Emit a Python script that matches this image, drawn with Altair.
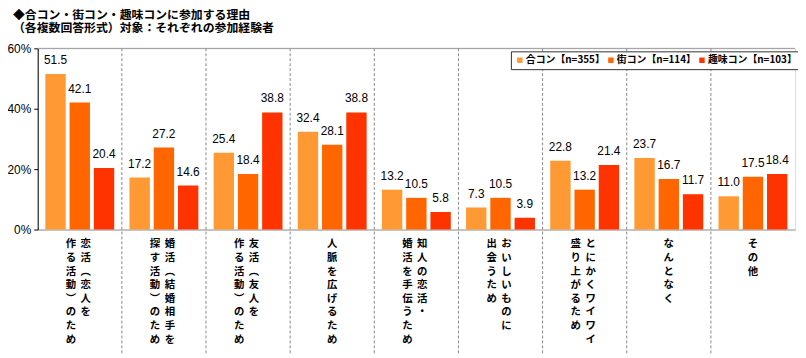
import altair as alt
import pandas as pd

categories = ["c1", "c2", "c3", "c4", "c5", "c6", "c7", "c8", "c9"]
series = ["合コン【n=355】", "街コン【n=114】", "趣味コン【n=103】"]
colors = ["#FF9933", "#FF6600", "#FF3300"]
goukon = [51.5, 17.2, 25.4, 32.4, 13.2, 7.3, 22.8, 23.7, 11.0]
machikon = [42.1, 27.2, 18.4, 28.1, 10.5, 10.5, 13.2, 16.7, 17.5]
shumikon = [20.4, 14.6, 38.8, 38.8, 5.8, 3.9, 21.4, 11.7, 18.4]

# vertical labels: right column (read first), left column
label_right = ["恋活︵恋人を", "婚活︵結婚相手を", "友活︵友人を", "", "知人の恋活・",
               "おいしいものに", "とにかくワイワイ", "", ""]
label_left = ["作る活動︶のため", "探す活動︶のため", "作る活動︶のため", "", "婚活を手伝うため",
              "出会うため", "盛り上がるため", "", ""]
label_single = ["", "", "", "人脈を広げるため", "", "", "", "なんとなく", "その他"]

title_text = "◆合コン・街コン・趣味コンに参加する理由"
subtitle_text = "（各複数回答形式）対象：それぞれの参加経験者"
y_ticks = [0, 20, 40, 60]

W, H = 765, 183
JP = "Noto Sans CJK JP"

rows = []
for vals, s in zip([goukon, machikon, shumikon], series):
    for c, v in zip(categories, vals):
        rows.append({"cat": c, "series": s, "value": v})
df = pd.DataFrame(rows)

def vert(s):
    return "\n".join(list(s))

lab_r = pd.DataFrame({"cat": categories, "t": [vert(s) for s in label_right]})
lab_r = lab_r[lab_r.t != ""]
lab_l = pd.DataFrame({"cat": categories, "t": [vert(s) for s in label_left]})
lab_l = lab_l[lab_l.t != ""]
lab_s = pd.DataFrame({"cat": categories, "t": [vert(s) for s in label_single]})
lab_s = lab_s[lab_s.t != ""]
sep = pd.DataFrame({"cat": categories[1:]})

xscale = alt.Scale(domain=categories, paddingInner=0, paddingOuter=0)
xoff = alt.XOffset("series:N", sort=series,
                   scale=alt.Scale(domain=series, paddingInner=0.16, paddingOuter=0.315))
yscale = alt.Scale(domain=[0, 60], nice=False)

base = alt.Chart(df)
bars = base.mark_bar().encode(
    x=alt.X("cat:N", scale=xscale, axis=alt.Axis(labels=False, ticks=False, title=None,
                                                 domainColor="#999999", grid=False)),
    xOffset=xoff,
    y=alt.Y("value:Q", scale=yscale,
            axis=alt.Axis(values=y_ticks, labelExpr="datum.value + '%'", title=None, grid=False,
                          domainColor="#000000", tickColor="#000000", tickSize=4,
                          labelFont="Liberation Sans", labelFontSize=12, labelColor="#000000",
                          labelPadding=3)),
    color=alt.Color("series:N", sort=series,
                    scale=alt.Scale(domain=series, range=colors),
                    legend=alt.Legend(title=None, orient="none", legendX=478, legendY=3,
                                      direction="horizontal", columns=3,
                                      symbolType="square", symbolSize=30, symbolStrokeWidth=0,
                                      labelFont=JP, labelFontSize=10, labelFontWeight="bold",
                                      labelColor="#000000", strokeColor="#333333",
                                      fillColor="#ffffff", padding=4, columnPadding=0,
                                      symbolOffset=0, labelOffset=1)),
)
vlabels = base.mark_text(baseline="bottom", dy=-7, font="Liberation Sans", fontSize=12,
                         color="#000000").encode(
    x=alt.X("cat:N", scale=xscale),
    xOffset=xoff,
    y=alt.Y("value:Q", scale=yscale),
    text=alt.Text("value:Q", format=".1f"),
)
toprule = alt.Chart(pd.DataFrame({"v": [60]})).mark_rule(color="#999999").encode(
    y=alt.Y("v:Q", scale=yscale))
seps = alt.Chart(sep).mark_rule(color="#888888", strokeDash=[3, 2]).encode(
    x=alt.X("cat:N", scale=xscale, bandPosition=0),
    y=alt.value(0), y2=alt.value(310))

def labtext(d, dx):
    return alt.Chart(d).mark_text(baseline="top", align="center", dx=dx, font=JP, fontSize=10.5,
                                  fontWeight="bold", lineBreak="\n", lineHeight=13.75,
                                  color="#000000").encode(
        x=alt.X("cat:N", scale=xscale), y=alt.value(H + 10), text="t:N")

chart = alt.layer(
    seps, toprule, bars, vlabels, labtext(lab_r, 6), labtext(lab_l, -9), labtext(lab_s, 0)
).properties(
    width=W, height=H,
    title=alt.TitleParams(text=title_text, subtitle=subtitle_text, anchor="start", frame="group",
                          dx=-25, offset=8, font=JP, fontSize=12, fontWeight="bold",
                          color="#000000", subtitleFont=JP, subtitleFontSize=12,
                          subtitleFontWeight="bold", subtitleColor="#000000",
                          subtitlePadding=1),
    autosize=alt.AutoSizeParams(type="none"),
    padding={"left": 30, "top": 39, "right": 3, "bottom": 128},
).configure_view(stroke=None).configure(background="#ffffff")

chart.save("out.html", embed_options={"renderer": "svg", "actions": False})
